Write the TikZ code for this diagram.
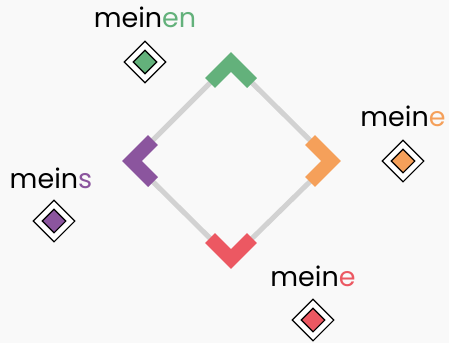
\documentclass[tikz,border=0pt]{standalone}
\usepackage{fontspec}
\setmainfont{Poppins}
\usepackage{tikz}
\usetikzlibrary{shapes.geometric,positioning}

\definecolor{bgcol}{HTML}{F9F9F9}
\definecolor{rail}{HTML}{D2D2D2}
\definecolor{cgreen}{HTML}{63B17B}
\definecolor{cpurple}{HTML}{8B559E}
\definecolor{corange}{HTML}{F5A05A}
\definecolor{cred}{HTML}{EC5862}

\begin{document}
\begin{tikzpicture}[
x=1pt,y=-1pt,
chev/.style={line width=14pt,line join=miter,line cap=butt},
edge/.style={draw=rail,line width=5pt},
gem/.style={diamond,draw,fill=white,line width=1.1pt,inner sep=0pt,minimum width=42pt,minimum height=42pt},
gemcore/.style={diamond,draw,line width=1.1pt,inner sep=0pt,minimum width=24pt,minimum height=24pt},
word/.style={anchor=base,font=\fontsize{27}{31}\selectfont,inner sep=0pt}]
\fill[bgcol] (0,0) rectangle (449,343);
\useasboundingbox (0,0) rectangle (449,343);
% corners of the square
\coordinate (top) at (231,62);
\coordinate (right) at (331,161);
\coordinate (bottom) at (231,259);
\coordinate (left) at (132,161);
\draw[edge] (top) -- (right) -- (bottom) -- (left) -- cycle;
\draw[chev,draw=cgreen] ([shift={(-21,21)}]top) -- (top) -- ([shift={(21,21)}]top);
\draw[chev,draw=corange] ([shift={(-21,-21)}]right) -- (right) -- ([shift={(-21,21)}]right);
\draw[chev,draw=cred] ([shift={(-21,-21)}]bottom) -- (bottom) -- ([shift={(21,-21)}]bottom);
\draw[chev,draw=cpurple] ([shift={(21,-21)}]left) -- (left) -- ([shift={(21,21)}]left);
% markers
\node[gem] (gmark) at (145,62) {};
\node[gemcore,fill=cgreen] (gcore) at (gmark) {};
\node[gem] (omark) at (403,161) {};
\node[gemcore,fill=corange] (ocore) at (omark) {};
\node[gem] (pmark) at (54,221) {};
\node[gemcore,fill=cpurple] (pcore) at (pmark) {};
\node[gem] (rmark) at (313,320) {};
\node[gemcore,fill=cred] (rcore) at (rmark) {};
% labels
\node[word] (glabel) at ([yshift=35pt]gmark.center) {mein\textcolor{cgreen}{en}};
\node[word] (olabel) at ([yshift=35pt]omark.center) {mein\textcolor{corange}{e}};
\node[word] (plabel) at ([xshift=-3pt,yshift=33pt]pmark.center) {mein\textcolor{cpurple}{s}};
\node[word] (rlabel) at ([yshift=34pt]rmark.center) {mein\textcolor{cred}{e}};
\end{tikzpicture}
\end{document}
